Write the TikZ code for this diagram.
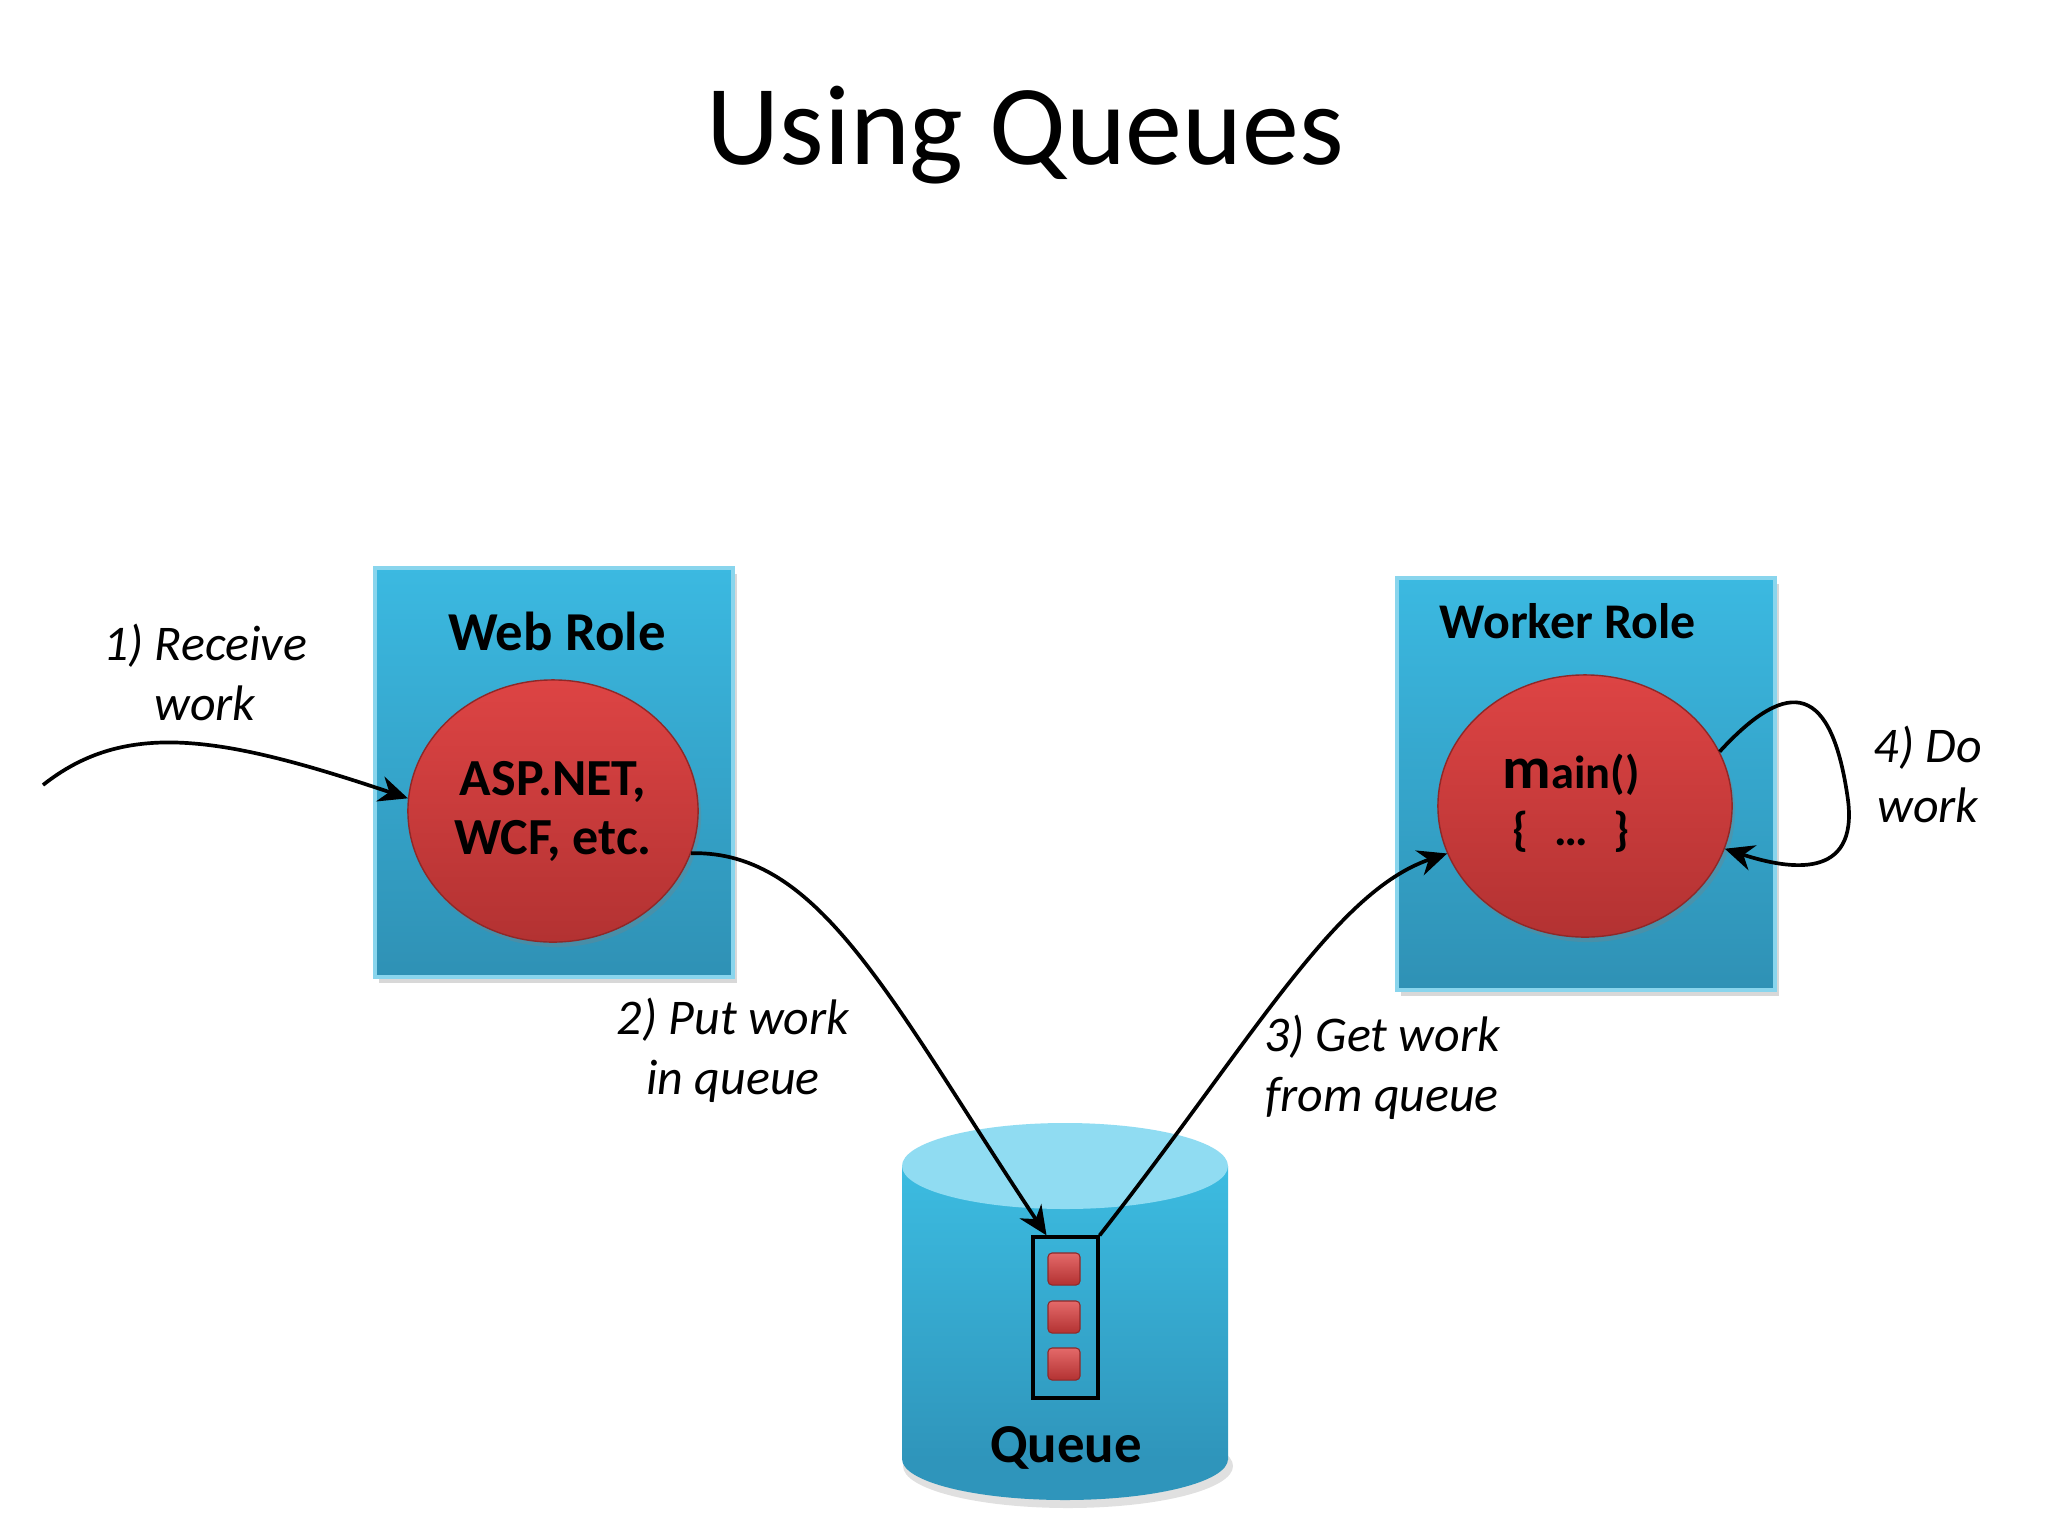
\documentclass[tikz,border=0pt]{standalone}
\usepackage{fontspec}
\setmainfont{Carlito}
\usetikzlibrary{positioning, shadows, arrows.meta, shapes.geometric}
\definecolor{roleblue}{HTML}{3BB9E1}
\definecolor{roleblueb}{HTML}{2F91B5}
\definecolor{blobred}{HTML}{DD4444}
\definecolor{blobredb}{HTML}{B33232}
\definecolor{queuetop}{HTML}{90DCF2}
\definecolor{queueside}{HTML}{3CBCE1}
\definecolor{queuesideb}{HTML}{2F95BB}

\tikzset{
  rolebox/.style={draw=roleblue!60!white, line width=1pt, top color=roleblue, bottom color=roleblueb,
    drop shadow={shadow xshift=0.04cm, shadow yshift=-0.06cm, opacity=0.3}},
  appblob/.style={ellipse, inner sep=0pt, draw=blobredb!80!black, line width=0.4pt,
    top color=blobred, bottom color=blobredb,
    drop shadow={shadow xshift=0.03cm, shadow yshift=-0.05cm, opacity=0.3}},
  queueitem/.style={minimum size=0.32cm, inner sep=0pt, rounded corners=0.04cm,
    draw=blobredb!80!black, line width=0.3pt, top color=blobred!80!white, bottom color=blobredb},
  rolelabel/.style={anchor=base, font=\bfseries\fontsize{15.6}{18}\selectfont},
  steplabel/.style={align=center, font=\itshape\fontsize{14.2}{17.1}\selectfont},
  flow/.style={line width=1.05pt, -{Stealth[length=0.29cm, width=0.26cm]}}
}

\begin{document}
\begin{tikzpicture}[x=0.01cm, y=-0.01cm] % pixel grid of the slide

\useasboundingbox (0,0) rectangle (2048,1536);
\fill[white] (0,0) rectangle (2048,1536);

\node[anchor=base, font=\fontsize{32.4}{38}\selectfont] (title) at (1025,164) {Using Queues};

% web role
\node[rolebox, minimum width=3.58cm, minimum height=4.09cm] (webrole) at (554,772.5) {};
\node[rolelabel] (webtitle) at (557,650) {Web Role};
\node[appblob, minimum width=2.90cm, minimum height=2.62cm, align=center,
  font=\bfseries\fontsize{14.8}{16.8}\selectfont] (webapp) at (553,811) {ASP.NET,\\WCF, etc.};

% worker role
\node[rolebox, minimum width=3.78cm, minimum height=4.12cm] (workerrole) at (1586,784) {};
\node[rolelabel, font=\bfseries\fontsize{14.2}{17}\selectfont] (workertitle) at (1568,638) {Worker Role};
\node[appblob, minimum width=2.94cm, minimum height=2.62cm] (workermain) at (1585,806) {};
\node[anchor=base, font=\bfseries\fontsize{13.2}{15.6}\selectfont] (workercode) at (1571,788)
  {{\fontsize{17}{17}\selectfont m}ain()};
\node[anchor=base, font=\bfseries\fontsize{13.4}{15.6}\selectfont] (workerbody) at (1571,845)
  {\{\hspace{0.55em}…\hspace{0.55em}\}};

% queue
\fill[black, opacity=0.12] (1068,1466) ellipse [x radius=165, y radius=42];
\fill[queuesideb] (1065,1459) ellipse [x radius=163, y radius=41];
\shade[top color=queueside, bottom color=queuesideb] (902,1166) rectangle (1228,1459);
\fill[queuetop] (1065,1166) ellipse [x radius=163, y radius=43];
\node[draw, line width=0.9pt, minimum width=0.65cm, minimum height=1.61cm, inner sep=0pt] (queuebox) at (1065.5,1317.5) {};
\node[queueitem] (item1) at (1064,1269) {};
\node[queueitem] (item2) at (1064,1317) {};
\node[queueitem] (item3) at (1064,1364) {};
\node[rolelabel, font=\bfseries\fontsize{15.6}{18}\selectfont] (queuelabel) at (1066,1462) {Queue};

% step labels
\node[steplabel] (receive) at (205,672) {1) Receive\\work};
\node[steplabel] (putwork) at (733,1050) {2) Put work\\in queue};
\node[steplabel] (getwork) at (1382,1067) {3) Get work\\from queue};
\node[steplabel] (dowork) at (1928,774) {4) Do\\work};

% connectors
\coordinate (incoming) at (43,785);
\draw[flow] (incoming) .. controls (125,720) and (220,735) .. (webapp.175);
\draw[flow] (webapp.-17) .. controls (820,850) and (890,1000) .. (queuebox.103);
\draw[flow] (queuebox.north east) .. controls (1252,1041) and (1334,892) .. (workermain.199);
\draw[flow] (workermain.22) .. controls (1790,675) and (1832,685) .. (1848,800)
  .. controls (1858,880) and (1790,870) .. (workermain.343);

\end{tikzpicture}
\end{document}
